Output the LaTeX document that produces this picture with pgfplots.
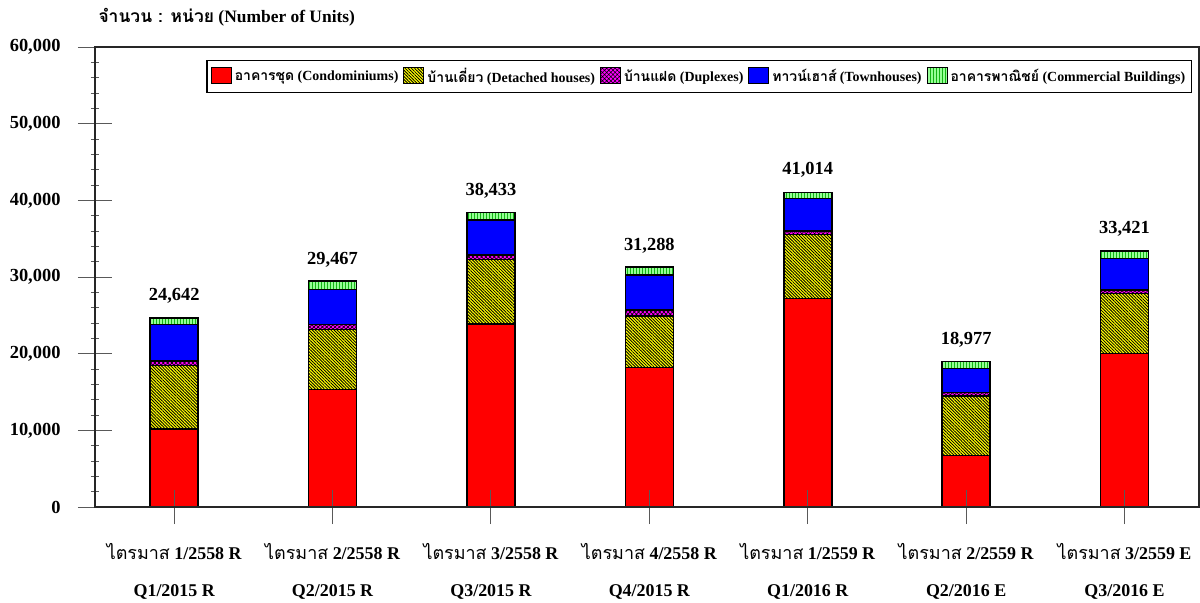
\documentclass[border=0pt]{standalone}
\usepackage{fontspec}
\setmainfont{Liberation Serif}
\newfontfamily\thai[Script=Thai]{Loma}
\usepackage{pgfplots}
\pgfplotsset{compat=1.18}
\usetikzlibrary{patterns.meta}
\definecolor{cRed}{RGB}{255,0,0}
\definecolor{cYel}{RGB}{255,255,0}
\definecolor{cMag}{RGB}{255,0,255}
\definecolor{cBlue}{RGB}{0,0,255}
\definecolor{cGrn}{RGB}{150,255,150}
\definecolor{cGrnD}{RGB}{20,180,20}
\begin{document}
\begin{tikzpicture}
\begin{axis}[
  width=1104bp, height=460bp, scale only axis,
  ybar stacked, bar width=48bp,
  xmin=-0.5, xmax=6.47, ymin=0, ymax=60000,
  xtick={0,1,2,3,4,5,6},
  xticklabels={
    {{\thai\mdseries ไตรมาส} 1/2558 R\\Q1/2015 R},
    {{\thai\mdseries ไตรมาส} 2/2558 R\\Q2/2015 R},
    {{\thai\mdseries ไตรมาส} 3/2558 R\\Q3/2015 R},
    {{\thai\mdseries ไตรมาส} 4/2558 R\\Q4/2015 R},
    {{\thai\mdseries ไตรมาส} 1/2559 R\\Q1/2016 R},
    {{\thai\mdseries ไตรมาส} 2/2559 R\\Q2/2016 E},
    {{\thai\mdseries ไตรมาส} 3/2559 E\\Q3/2016 E}},
  ytick={0,10000,20000,30000,40000,50000,60000},
  minor y tick num=4,
  scaled y ticks=false,
  /pgf/number format/1000 sep={,},
  /pgf/number format/assume math mode=true,
  tick pos=left,
  tick align=center,
  major tick length=34bp, minor tick length=8bp,
  tick style={color=black!65, line width=1bp},
  axis line style={color=black!85, line width=1.5bp},
  axis on top,
  yticklabel style={font=\fontsize{18.5}{20}\selectfont\bfseries, xshift=-14bp},
  xticklabel style={align=center, font=\fontsize{18}{37}\selectfont\bfseries, yshift=-16bp},
  title={{\thai จำนวน : หน่วย} (Number of Units)},
  title style={at={(0,1)}, anchor=base west, yshift=19bp, font=\fontsize{17.5}{20}\selectfont\bfseries},
  legend style={at={(0.9937,0.972)}, anchor=north east, legend columns=-1, draw=black,
    line width=1.5bp, font=\fontsize{14}{16}\selectfont\bfseries, inner xsep=4bp, inner ysep=6bp,
    /tikz/every even column/.append style={column sep=3bp},
    /tikz/every odd column/.append style={column sep=1bp}},
  legend image code/.code={\draw[#1, line width=1bp] (0bp,-7bp) rectangle (20bp,9bp);},
  every axis plot/.append style={draw=black, line width=1.5bp},
]
\addplot[fill=cRed] coordinates {(0,10150) (1,15300) (2,23900) (3,18200) (4,27200) (5,6750) (6,20050)};
\addplot[fill=cYel, postaction={pattern color=black, pattern={Lines[angle=-45,distance=2.2bp,line width=0.85bp]}}] coordinates {(0,8300) (1,7870) (2,8400) (3,6700) (4,8350) (5,7720) (6,7800)};
\addplot[fill=cMag, postaction={pattern color=black, pattern={Hatch[angle=45,distance=3bp,line width=0.6bp]}}] coordinates {(0,600) (1,650) (2,560) (3,780) (4,470) (5,480) (6,450)};
\addplot[fill=cBlue] coordinates {(0,4750) (1,4570) (2,4570) (3,4560) (4,4220) (5,3090) (6,4130)};
\addplot[fill=cGrn, postaction={pattern color=cGrnD, pattern={Lines[angle=90,distance=3bp,line width=1bp]}},
  point meta=explicit symbolic, nodes near coords,
  every node near coord/.style={anchor=south, yshift=14bp, font=\fontsize{18.5}{20}\selectfont\bfseries, color=black}]
  coordinates {(0,842) [24,642] (1,1077) [29,467] (2,1003) [38,433] (3,1048) [31,288] (4,774) [41,014] (5,937) [18,977] (6,991) [33,421]};
\legend{{\thai อาคารชุด} (Condominiums), {\thai บ้านเดี่ยว} (Detached houses), {\thai บ้านแฝด} (Duplexes), {\thai ทาวน์เฮาส์} (Townhouses), {\thai อาคารพาณิชย์} (Commercial Buildings)}
\end{axis}
\path (current axis.south west) ++(-95bp,-93bp) rectangle ++(1200bp,600bp);
\end{tikzpicture}
\end{document}
